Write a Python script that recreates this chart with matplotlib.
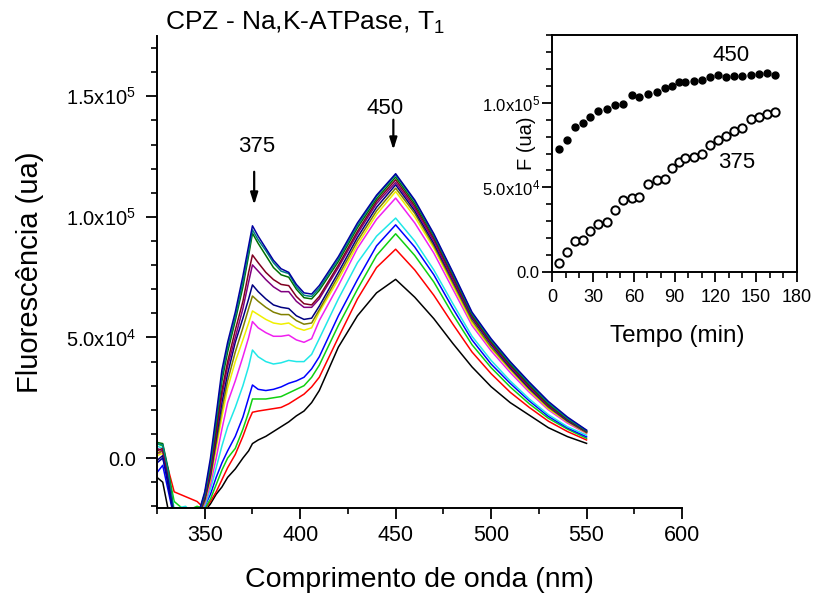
import numpy as np
import matplotlib
matplotlib.use("Agg")
import matplotlib.pyplot as plt
from matplotlib.ticker import MultipleLocator, FuncFormatter

plt.rcParams['font.family'] = ['Liberation Sans', 'DejaVu Sans']
plt.rcParams['mathtext.fontset'] = 'custom'
plt.rcParams['mathtext.rm'] = 'Liberation Sans'
plt.rcParams['mathtext.it'] = 'Liberation Sans:italic'

# ---------------- data (fluorescence in units of 1e3) ----------------
wavelength = [325, 328, 331, 334, 340, 346, 350, 353, 356, 359, 362, 366, 370, 373, 375,
              378, 382, 386, 390, 394, 398, 402, 406, 410, 420, 430, 440, 450,
              460, 470, 480, 490, 500, 510, 520, 530, 540, 550]

sp_black = [-8, -10, -22, -25, -25, -25, -22, -19, -15, -12, -8, -4.5, 0, 3, 6,
            7.5, 9, 11, 13, 15, 17.5, 19.5, 23, 28, 46, 59, 68.5, 74.1,
            66.7, 57.8, 47.5, 37.8, 29.6, 23, 17.8, 12.6, 8.9, 6.1]
sp_red = [2, 3, -5, -14, -16, -18, -21, -18, -14, -9, -4, 1.5, 9, 15.5, 19,
          19.5, 20, 20.5, 21, 22.5, 24.5, 26.5, 29.5, 33.5, 50, 66, 79, 86.6,
          78, 67.5, 55.5, 44, 35, 27.3, 21, 15.3, 11, 7.5]
sp_green = [6, 5, -6, -18, -22, -20, -21, -17, -11, -5, 0, 4, 12, 19, 24.5,
            24.5, 24.5, 25, 25.5, 27, 28.5, 30, 33.5, 38.5, 55, 70, 84, 93,
            84, 73, 59.5, 47, 37.5, 29.5, 22.5, 16.5, 12, 8.2]
sp_blue = [-6, -3, -14, -25, -25, -22, -20, -15, -8, -2, 3, 9, 17, 25, 30.3,
           28.5, 28, 28.5, 29.5, 31, 32, 33.5, 37, 42, 59, 74, 88, 96.7,
           87.5, 76, 62, 49, 39, 31, 23.7, 17.3, 12.5, 8.8]
sp_cyan = [5, 4, -8, -21, -20, -25, -20, -13, -4, 5, 13, 21, 30, 38, 44.8,
           42, 40, 39, 39.5, 40.5, 40, 40, 43, 49.5, 66, 81, 92, 99.5,
           90, 78, 64, 50.5, 40.5, 32, 24.5, 18, 13, 9.5]
sp_magenta = [2, 2, -10, -25, -22, -25, -19, -11, 0, 12, 23, 32, 42, 50, 56.6,
              54, 52, 50.5, 50.5, 51, 49, 48, 49.5, 57, 71.5, 87, 99, 107.8,
              97.5, 85, 70, 55, 44.5, 35.5, 27.3, 20, 14.5, 10.2]
sp_yellow = [1, 2, -9, -25, -25, -25, -18, -9, 4, 17, 29, 40, 49, 56, 61,
             59.5, 57.5, 56, 55.5, 56, 54, 53, 54, 60.5, 74, 88.5, 101, 110.5,
             100, 87, 71.5, 56, 45.5, 36.5, 28, 20.5, 15, 10.4]
sp_darkyellow = [2, 3, -9, -25, -25, -25, -18, -8, 6, 20, 32, 44, 54, 62, 67.2,
                 65, 62.5, 60.5, 59.5, 59.5, 57, 55.5, 56, 61.5, 75.5, 90, 102.5, 111.9,
                 101.5, 88, 72.5, 57, 46, 37, 28.5, 21, 15.2, 10.6]
sp_navy = [-1, 1, -12, -25, -25, -25, -17, -7, 8, 23, 35, 48, 58, 66, 71.8,
           69, 66, 63.5, 62.5, 62, 59, 57.5, 58, 63, 77, 91.5, 104, 113.3,
           102.5, 89, 73.5, 58, 47, 37.5, 29, 21.5, 15.5, 10.8]
sp_purple = [4, 3, -8, -25, -25, -25, -16, -6, 10, 26, 38, 50, 62, 73, 80.1,
             77.5, 74, 71, 69, 69, 65, 62.5, 62.5, 66, 79, 93, 105.5, 114.3,
             103.5, 90, 74, 58.5, 47.5, 38, 29.5, 21.7, 15.8, 10.9]
sp_wine = [3, 4, -8, -25, -25, -25, -16, -5, 11, 28, 40, 53, 65, 77, 84.2,
           81, 77, 74, 72, 71.5, 67, 64, 63.5, 67, 80, 94, 106.5, 115.4,
           104.5, 91, 75, 59, 48, 38.5, 30, 22, 16, 11.0]
sp_olive = [6.5, 6, -5, -24, -25, -25, -15, -3, 14, 32, 44, 57, 71, 84, 93.2,
            89, 84, 79, 76, 75, 70, 66.5, 66, 69.5, 81.5, 95.5, 107.5, 116.5,
            105.5, 92, 76, 59.5, 48.5, 39, 30.5, 22.5, 16.2, 11.2]
sp_darkcyan = [6, 5.5, -6, -25, -25, -25, -15, -2, 16, 34, 46, 58.5, 73, 85.5, 94.6,
               90.5, 86, 81, 77.5, 76.5, 71, 67.5, 67, 70.5, 82.5, 96.5, 108.5, 117.4,
               106.5, 92.5, 76.5, 60, 49, 39.5, 31, 23, 16.5, 11.4]
sp_royal = [-2, 0, -10, -25, -25, -25, -14, 0, 18, 36.5, 48, 60.5, 75.5, 88, 96.3,
            92, 87, 82, 78.5, 77, 72, 68.5, 68, 71.5, 83.5, 97.5, 109, 117.9,
            107, 93, 77, 60.5, 49.5, 40, 31.5, 23.5, 17, 11.6]

spectra = [sp_black, sp_red, sp_green, sp_blue, sp_cyan, sp_magenta, sp_yellow,
           sp_darkyellow, sp_navy, sp_purple, sp_wine, sp_olive, sp_darkcyan, sp_royal]
colors = ['#000000', '#ff0000', '#10d010', '#0000ff', '#20e8e8', '#f020f0', '#f0f000',
          '#808000', '#000080', '#800080', '#800020', '#007000', '#008080', '#0000a0']

# inset: time course
time_min = [5, 11, 17, 22.5, 28, 34, 40, 46, 52, 58.5, 64, 70.5, 77, 83, 88, 93, 98,
            104, 110, 116, 122, 128, 134, 140, 146, 152, 158, 164]
f450 = [72.8, 78.0, 85.5, 87.9, 91.6, 94.9, 96.2, 98.4, 99.2, 104.3, 103.3, 105.4, 106.5,
        108.5, 110.0, 112.5, 112.2, 112.8, 113.5, 115.0, 116.1, 115.0, 115.5, 115.7,
        116.3, 116.8, 117.4, 116.1]
f375 = [5.3, 11.9, 18.3, 18.8, 24.1, 28.2, 29.8, 36.7, 42.5, 43.8, 44.5, 52.2, 54.5,
        55.1, 61.2, 65.2, 67.5, 67.8, 69.6, 75.3, 78.0, 80.3, 83.3, 85.1, 90.4, 91.6,
        93.5, 94.8]


def sci_fmt(v, pos):
    if abs(v) < 1e-9:
        return '0.0'
    e = int(np.floor(np.log10(abs(v))))
    m = v / 10 ** e
    return r'%.1fx10$^{%d}$' % (m, e)


# ---------------- figure ----------------
fig = plt.figure(figsize=(8.15, 6.0), dpi=100)
ax = fig.add_axes([157/815, 92/600, 525/815, 472/600])

for sp, c in zip(spectra, colors):
    ax.plot(wavelength, [v * 1000 for v in sp], color=c, lw=1.1)

ax.set_xlim(325, 600)
ax.set_ylim(-20700, 175000)
ax.spines['top'].set_visible(False)
ax.spines['right'].set_visible(False)
for s in ('left', 'bottom'):
    ax.spines[s].set_linewidth(1.4)

ax.xaxis.set_major_locator(MultipleLocator(50))
ax.xaxis.set_minor_locator(MultipleLocator(25))
ax.yaxis.set_major_locator(MultipleLocator(50000))
ax.yaxis.set_minor_locator(MultipleLocator(10000))
ax.yaxis.set_major_formatter(FuncFormatter(sci_fmt))
ax.tick_params(axis='both', which='major', direction='out', length=8, width=1.3)
ax.tick_params(axis='both', which='minor', direction='out', length=4.5, width=1.2)
ax.tick_params(axis='x', labelsize=15.5, pad=4)
ax.tick_params(axis='y', labelsize=14.5, pad=7)

ax.set_xlabel('Comprimento de onda (nm)', fontsize=20.5, va='center')
ax.xaxis.set_label_coords(0.5, -0.1525)
ax.set_ylabel('Fluorescência (ua)', fontsize=21, va='center')
ax.yaxis.set_label_coords(-0.242, 0.5)

fig.text(165/815, 1 - 30/600, 'CPZ - Na,K-ATPase, T$_1$', fontsize=19,
         ha='left', va='baseline')

arrow_kw = dict(arrowstyle='-|>,head_length=0.7,head_width=0.22', lw=1.6, color='k',
                shrinkA=0, shrinkB=0)
ax.annotate('', xy=(375.9, 105000), xytext=(375.9, 118700), arrowprops=arrow_kw)
ax.text(377, 129000, '375', fontsize=16, ha='center', va='center')
ax.annotate('', xy=(448.8, 127800), xytext=(448.8, 140300), arrowprops=arrow_kw)
ax.text(444.6, 145000, '450', fontsize=16, ha='center', va='center')

# ---------------- inset ----------------
ins = fig.add_axes([552.3/815, (600-272)/600, 244.4/815, 237/600])
ins.plot(time_min, [v * 1000 for v in f450], 'o', color='k', ms=5)
ins.plot(time_min, [v * 1000 for v in f375], 'o', mfc='white', mec='k', ms=6, mew=1.4)
ins.set_xlim(0, 180)
ins.set_ylim(0, 140000)
for s in ins.spines.values():
    s.set_linewidth(1.4)
ins.xaxis.set_major_locator(MultipleLocator(30))
ins.xaxis.set_minor_locator(MultipleLocator(10))
ins.yaxis.set_major_locator(MultipleLocator(50000))
ins.yaxis.set_minor_locator(MultipleLocator(10000))
ins.yaxis.set_major_formatter(FuncFormatter(sci_fmt))
ins.tick_params(axis='both', which='major', direction='out', length=7, width=1.3)
ins.tick_params(axis='both', which='minor', direction='out', length=4, width=1.2)
ins.tick_params(axis='x', labelsize=13, pad=5)
ins.tick_params(axis='y', labelsize=12, pad=2)
ins.set_xlabel('Tempo (min)', fontsize=17.5, va='center')
ins.xaxis.set_label_coords(0.51, -0.27)
ins.set_ylabel('F (ua)', fontsize=14.5, va='center')
ins.yaxis.set_label_coords(-0.104, 0.545)
ins.text(132, 127600, '450', fontsize=16, ha='center', va='center')
ins.text(136, 64700, '375', fontsize=16, ha='center', va='center')

fig.savefig('out.png', dpi=100)
